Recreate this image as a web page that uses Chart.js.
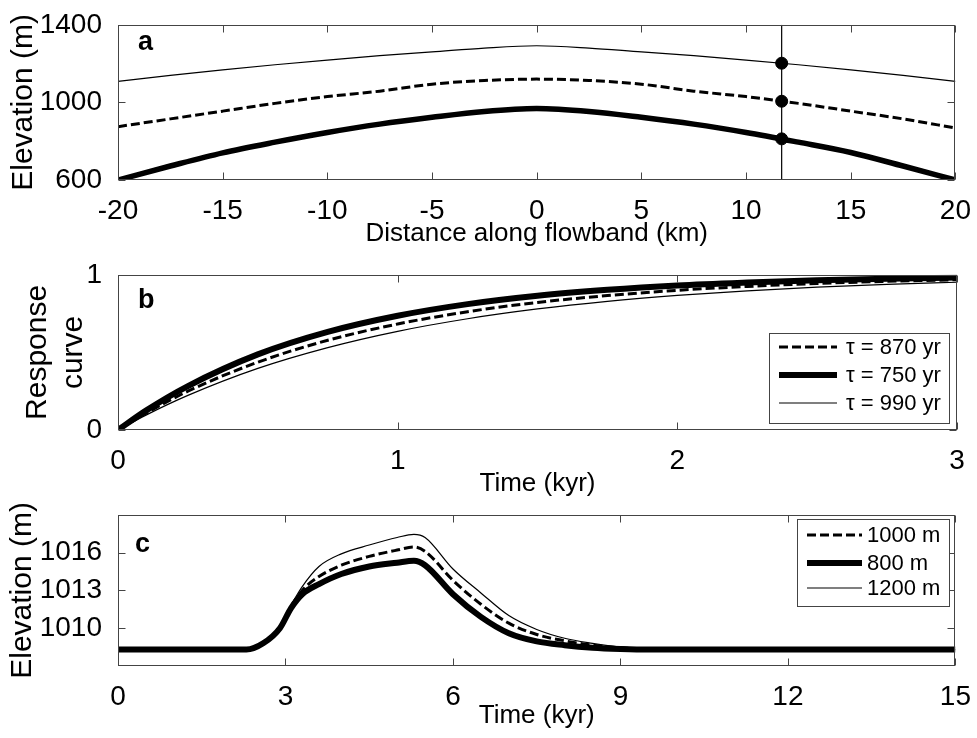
<!DOCTYPE html>
<html>
<head>
<meta charset="utf-8">
<script src="https://cdn.jsdelivr.net/npm/chart.js@4.4.1/dist/chart.umd.min.js"></script>
<style>
  html, body { margin: 0; padding: 0; background: #ffffff; }
  body { width: 977px; height: 738px; position: relative; overflow: hidden; }
  .pane { position: absolute; left: 0; width: 977px; }
  canvas { display: block; }
</style>
</head>
<body>
<div class="pane" style="top:0px;height:250px;"><canvas id="chartA" width="977" height="250"></canvas></div>
<div class="pane" style="top:250px;height:250px;"><canvas id="chartB" width="977" height="250"></canvas></div>
<div class="pane" style="top:490px;height:248px;"><canvas id="chartC" width="977" height="248"></canvas></div>
<script>
// ---------- Panel a: elevation profiles along flowband ----------
const distanceKm     = [-20, -17.5, -15, -12.5, -10, -7.5, -5, -2.5, 0, 2.5, 5, 7.5, 10, 12.5, 15, 17.5, 20];
const elevThin1200   = [1108, 1139, 1168, 1194, 1218, 1241, 1260, 1280, 1292, 1280, 1260, 1241, 1218, 1194, 1168, 1139, 1108];
const elevDashed1000 = [875, 915, 955, 995, 1030, 1058, 1094, 1113, 1120, 1113, 1094, 1058, 1030, 995, 955, 915, 868];
const elevThick800   = [600, 672, 740, 795, 845, 888, 923, 953, 968, 953, 923, 888, 845, 795, 742, 672, 600];
const markerKm       = 11.7;
const markerElev     = [1202, 1006, 812];
const xTicksA        = [-20, -15, -10, -5, 0, 5, 10, 15, 20];
const yTicksA        = [600, 1000, 1400];

// ---------- Panel b: response curves ----------
const timeB     = [0, 0.1, 0.25, 0.5, 0.75, 1, 1.25, 1.5, 1.75, 2, 2.25, 2.5, 2.75, 3];
const resp870   = [0, 0.108, 0.250, 0.437, 0.578, 0.683, 0.762, 0.822, 0.866, 0.900, 0.925, 0.944, 0.958, 0.968];
const resp750   = [0, 0.125, 0.283, 0.487, 0.632, 0.736, 0.811, 0.865, 0.903, 0.931, 0.950, 0.965, 0.975, 0.982];
const resp990   = [0, 0.096, 0.223, 0.397, 0.531, 0.636, 0.717, 0.780, 0.829, 0.867, 0.897, 0.920, 0.938, 0.952];
const labelsB   = ['\u03c4 = 870 yr', '\u03c4 = 750 yr', '\u03c4 = 990 yr'];
const xTicksB   = [0, 1, 2, 3];
const yTicksB   = [0, 1];

// ---------- Panel c: elevation time series ----------
const timeC      = [0, 2.3, 2.6, 2.9, 3.1, 3.3, 3.6, 4.0, 4.5, 5.0, 5.3, 5.5, 6.0, 6.5, 7.0, 7.5, 8.0, 8.5, 9.0, 9.5, 10, 15];
const elev1000   = [1008.3, 1008.3, 1008.8, 1010.0, 1011.7, 1013.0, 1014.1, 1015.0, 1015.7, 1016.2, 1016.45, 1016.1, 1013.8, 1011.9, 1010.4, 1009.5, 1009.0, 1008.65, 1008.45, 1008.35, 1008.3, 1008.3];
const elev800    = [1008.3, 1008.3, 1008.8, 1010.0, 1011.6, 1012.7, 1013.5, 1014.3, 1014.9, 1015.2, 1015.35, 1015.0, 1012.7, 1010.9, 1009.6, 1008.95, 1008.65, 1008.45, 1008.35, 1008.3, 1008.3, 1008.3];
const elev1200   = [1008.3, 1008.3, 1008.8, 1010.0, 1011.8, 1013.3, 1014.9, 1015.9, 1016.6, 1017.2, 1017.45, 1017.2, 1014.7, 1012.8, 1011.0, 1009.9, 1009.2, 1008.8, 1008.5, 1008.35, 1008.3, 1008.3];
const labelsC    = ['1000 m', '800 m', '1200 m'];
const xTicksC    = [0, 3, 6, 9, 12, 15];
const yTicksC    = [1010, 1013, 1016];

// ---------- shared styling ----------
const FONT = "'Liberation Sans', Arial, Helvetica, sans-serif";
const FRAME = '#444444';
const THIN = 1.2, DASHW = 3, THICK = 6, DASH = [9, 4];

const pts = (xs, ys) => xs.map((x, i) => ({ x: x, y: ys[i] }));

const framePlugin = {
  id: 'frame',
  afterDatasetsDraw(chart, args, opts) {
    const { ctx, chartArea: a, scales } = chart;
    ctx.save();
    ctx.strokeStyle = FRAME;
    ctx.lineWidth = 1;
    const L = Math.round(a.left) + 0.5, R = Math.round(a.right) - 0.5;
    const T = Math.round(a.top) + 0.5, B = Math.round(a.bottom) - 0.5;
    ctx.strokeRect(L, T, R - L, B - T);
    const tl = 7;
    ctx.beginPath();
    scales.x.ticks.forEach(t => {
      const p = Math.round(scales.x.getPixelForValue(t.value)) + 0.5;
      ctx.moveTo(p, B); ctx.lineTo(p, B - tl);
      ctx.moveTo(p, T); ctx.lineTo(p, T + tl);
    });
    scales.y.ticks.forEach(t => {
      const p = Math.round(scales.y.getPixelForValue(t.value)) + 0.5;
      ctx.moveTo(L, p); ctx.lineTo(L + tl, p);
      ctx.moveTo(R, p); ctx.lineTo(R - tl, p);
    });
    ctx.stroke();
    if (opts.letter) {
      ctx.fillStyle = '#000';
      ctx.font = 'bold 27px ' + FONT;
      ctx.textAlign = 'left';
      ctx.textBaseline = 'alphabetic';
      ctx.fillText(opts.letter, opts.letterX, opts.letterY);
    }
    if (opts.legend) {
      const lg = opts.legend;
      ctx.fillStyle = '#ffffff';
      ctx.fillRect(lg.x, lg.y, lg.w, lg.h);
      ctx.strokeStyle = FRAME;
      ctx.lineWidth = 1;
      ctx.strokeRect(lg.x + 0.5, lg.y + 0.5, lg.w - 1, lg.h - 1);
      ctx.font = lg.fontSize + 'px ' + FONT;
      ctx.textAlign = 'left';
      ctx.textBaseline = 'middle';
      lg.order.forEach((di, i) => {
        const ds = chart.data.datasets[di];
        const yy = lg.rowY[i];
        ctx.save();
        ctx.strokeStyle = '#000';
        ctx.lineWidth = ds.borderWidth;
        ctx.setLineDash(ds.borderDash || []);
        ctx.beginPath();
        ctx.moveTo(lg.lineX0, yy);
        ctx.lineTo(lg.lineX1, yy);
        ctx.stroke();
        ctx.restore();
        ctx.fillStyle = '#000';
        ctx.fillText(ds.label, lg.textX, yy + 1);
      });
    }
    ctx.restore();
  }
};

function lineDs(label, data, width, dash) {
  return {
    label: label,
    data: data,
    borderColor: '#000000',
    backgroundColor: '#000000',
    borderWidth: width,
    borderDash: dash || [],
    pointRadius: 0,
    pointHoverRadius: 0,
    fill: false,
    cubicInterpolationMode: 'monotone',
    borderCapStyle: 'butt'
  };
}

function makeScales(o) {
  return {
    x: {
      type: 'linear',
      min: o.xmin, max: o.xmax,
      grid: { display: false },
      border: { display: false },
      afterBuildTicks: s => { s.ticks = o.xticks.map(v => ({ value: v })); },
      afterFit: s => { s.height = o.xHeight; },
      ticks: {
        autoSkip: false, maxRotation: 0, minRotation: 0,
        padding: 6, color: '#000',
        font: { family: FONT, size: 28 },
        callback: v => String(v)
      },
      title: {
        display: true, text: o.xtitle, color: '#000',
        font: { family: FONT, size: 26 },
        padding: { top: 0, bottom: o.xTitlePad }
      }
    },
    y: {
      type: 'linear',
      min: o.ymin, max: o.ymax,
      grid: { display: false },
      border: { display: false },
      afterBuildTicks: s => { s.ticks = o.yticks.map(v => ({ value: v })); },
      afterFit: s => { s.width = 118; },
      ticks: {
        autoSkip: false, padding: 8, color: '#000',
        font: { family: FONT, size: 28 },
        callback: v => String(v)
      },
      title: {
        display: true, text: o.ytitle, color: '#000',
        font: { family: FONT, size: 30, lineHeight: 1.2 },
        padding: { top: o.yTitlePad, bottom: 0 }
      }
    }
  };
}

function baseOptions(o, frameOpts) {
  return {
    responsive: false,
    animation: false,
    devicePixelRatio: 1,
    layout: { padding: { left: 0, right: 20, top: o.padTop, bottom: 0 } },
    scales: makeScales(o),
    plugins: {
      legend: { display: false },
      tooltip: { enabled: false },
      frame: frameOpts
    },
    events: []
  };
}

// ----- Chart A -----
new Chart(document.getElementById('chartA'), {
  type: 'line',
  data: {
    datasets: [
      Object.assign(lineDs('800 m', pts(distanceKm, elevThick800), 5.5)),
      lineDs('1000 m', pts(distanceKm, elevDashed1000), DASHW, DASH),
      lineDs('1200 m', pts(distanceKm, elevThin1200), THIN),
      Object.assign(lineDs('marker line', [{ x: markerKm, y: 600 }, { x: markerKm, y: 1400 }], 1.2), { cubicInterpolationMode: 'default', tension: 0 }),
      {
        label: 'markers', type: 'scatter',
        data: markerElev.map(v => ({ x: markerKm, y: v })),
        pointRadius: 6, pointBackgroundColor: '#000', pointBorderColor: '#000',
        showLine: false
      }
    ]
  },
  options: baseOptions({
    xmin: -20, xmax: 20, ymin: 600, ymax: 1400,
    xticks: xTicksA, yticks: yTicksA,
    xtitle: 'Distance along flowband (km)', ytitle: 'Elevation (m)',
    xHeight: 70, xTitlePad: 1, yTitlePad: 6, padTop: 24
  }, { letter: 'a', letterX: 138, letterY: 50 }),
  plugins: [framePlugin]
});

// ----- Chart B -----
new Chart(document.getElementById('chartB'), {
  type: 'line',
  data: {
    datasets: [
      lineDs(labelsB[0], pts(timeB, resp870), DASHW, DASH),
      lineDs(labelsB[1], pts(timeB, resp750), THICK),
      lineDs(labelsB[2], pts(timeB, resp990), THIN)
    ]
  },
  options: baseOptions({
    xmin: 0, xmax: 3, ymin: 0, ymax: 1,
    xticks: xTicksB, yticks: yTicksB,
    xtitle: 'Time (kyr)', ytitle: ['Response', 'curve'],
    xHeight: 70, xTitlePad: 1, yTitlePad: 20, padTop: 24
  }, {
    letter: 'b', letterX: 138, letterY: 58,
    legend: { x: 769, y: 83, w: 181, h: 91, order: [0, 1, 2], rowY: [97, 125, 153],
              lineX0: 779, lineX1: 837, textX: 846, fontSize: 22 }
  }),
  plugins: [framePlugin]
});

// ----- Chart C -----
new Chart(document.getElementById('chartC'), {
  type: 'line',
  data: {
    datasets: [
      lineDs(labelsC[0], pts(timeC, elev1000), DASHW, DASH),
      lineDs(labelsC[1], pts(timeC, elev800), THICK),
      lineDs(labelsC[2], pts(timeC, elev1200), THIN)
    ]
  },
  options: baseOptions({
    xmin: 0, xmax: 15, ymin: 1007, ymax: 1019,
    xticks: xTicksC, yticks: yTicksC,
    xtitle: 'Time (kyr)', ytitle: 'Elevation (m)',
    xHeight: 72, xTitlePad: 7, yTitlePad: 5, padTop: 19
  }, {
    letter: 'c', letterX: 135, letterY: 62,
    legend: { x: 797, y: 29, w: 153, h: 88, order: [0, 1, 2], rowY: [45, 73, 98],
              lineX0: 807, lineX1: 862, textX: 867, fontSize: 22 }
  }),
  plugins: [framePlugin]
});
</script>
</body>
</html>
